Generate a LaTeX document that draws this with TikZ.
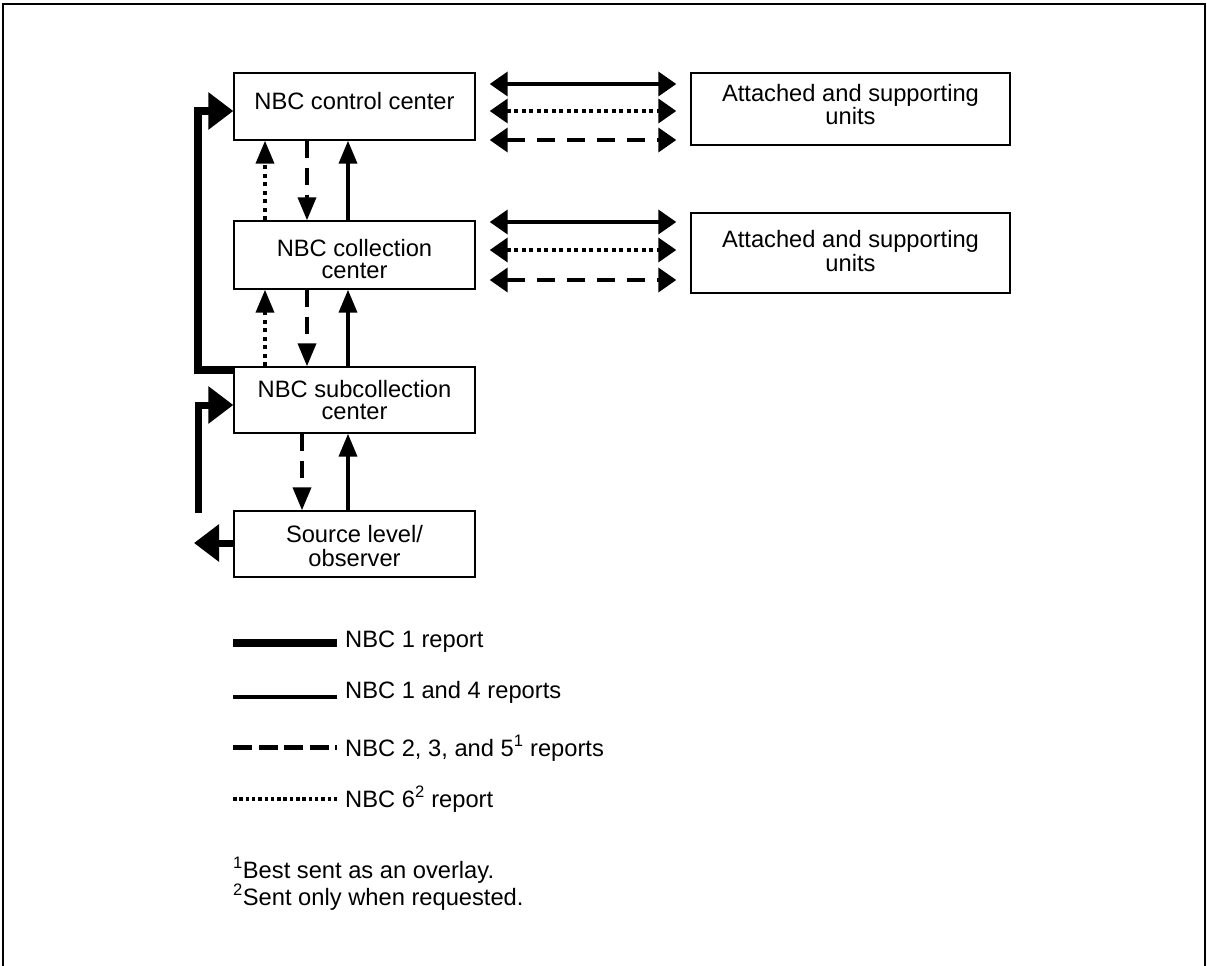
\documentclass[tikz,border=0pt]{standalone}
\usepackage{fontspec}
\setmainfont{Liberation Sans}
\usetikzlibrary{arrows.meta}
\begin{document}
\begin{tikzpicture}[x=1pt,y=-1pt,
  boxst/.style={draw,line width=1.4pt,rectangle,inner sep=0pt,minimum width=241pt},
  unitbox/.style={draw,line width=1.4pt,rectangle,inner sep=0pt,minimum width=319pt},
  txt/.style={inner sep=0pt,font=\fontsize{23.7}{23}\selectfont},
  hsolid/.style={line width=3.8pt,{Triangle[length=18pt,width=24pt]}-{Triangle[length=18pt,width=24pt]},shorten <=14pt,shorten >=14pt},
  hdotted/.style={hsolid,dash pattern=on 4pt off 3.5pt},
  hdashed/.style={hsolid,dash pattern=on 18pt off 12pt},
  vsolid/.style={line width=3.8pt,-{Triangle[length=23pt,width=18pt]}},
  vdotted/.style={vsolid,dash pattern=on 4pt off 4.5pt},
  vdashed/.style={vsolid,dash pattern=on 17pt off 10pt},
  nbcone/.style={line width=8pt,line join=miter},
  bighead/.style={-{Triangle[length=25pt,width=36pt]}}
]
\useasboundingbox (0,0) rectangle (1207,966);
% outer frame (open at bottom)
\draw[line width=2pt] (3,966) -- (3,4) -- (1205,4) -- (1205,966);

% boxes
\node[boxst,minimum height=67pt] (c1) at (354.5,106.5) {};
\node[boxst,minimum height=68pt] (c2) at (354.5,255) {};
\node[boxst,minimum height=66pt] (c3) at (354.5,400) {};
\node[boxst,minimum height=66pt] (c4) at (354.5,544) {};
\node[unitbox,minimum height=72pt] (a1) at (850.5,109) {};
\node[unitbox,minimum height=80pt] (a2) at (850.5,253) {};

% box texts
\node[txt,anchor=base] (c1t) at ([yshift=-37pt]c1.north) {NBC control center};
\node[txt,anchor=base] (c2t) at ([yshift=-36pt]c2.north) {NBC collection};
\node[txt,anchor=base] (c2u) at ([yshift=-58.5pt]c2.north) {center};
\node[txt,anchor=base] (c3t) at ([yshift=-31pt]c3.north) {NBC subcollection};
\node[txt,anchor=base] (c3u) at ([yshift=-53pt]c3.north) {center};
\node[txt,anchor=base] (c4t) at ([yshift=-32pt]c4.north) {Source level/};
\node[txt,anchor=base] (c4u) at ([yshift=-56pt]c4.north) {observer};
\node[txt,anchor=base] (a1t) at ([yshift=-29pt]a1.north) {Attached and supporting};
\node[txt,anchor=base] (a1u) at ([yshift=-52pt]a1.north) {units};
\node[txt,anchor=base] (a2t) at ([yshift=-35pt]a2.north) {Attached and supporting};
\node[txt,anchor=base] (a2u) at ([yshift=-59pt]a2.north) {units};

% horizontal arrows, group 1
\draw[hsolid]  ([yshift=22.5pt]c1.east) -- ([yshift=22.5pt]c1.east -| a1.west);
\draw[hdotted] ([yshift=-4.5pt]c1.east) -- ([yshift=-4.5pt]c1.east -| a1.west);
\draw[hdashed] ([yshift=-33.5pt]c1.east) -- ([yshift=-33.5pt]c1.east -| a1.west);
% horizontal arrows, group 2
\draw[hsolid]  ([yshift=33pt]c2.east) -- ([yshift=33pt]c2.east -| a2.west);
\draw[hdotted] ([yshift=5pt]c2.east) -- ([yshift=5pt]c2.east -| a2.west);
\draw[hdashed] ([yshift=-25pt]c2.east) -- ([yshift=-25pt]c2.east -| a2.west);

% vertical arrows c2 <-> c1
\draw[vdotted] ([xshift=-89.5pt]c2.north) -- ([xshift=-89.5pt]c1.south);
\draw[vdashed] ([xshift=-47.5pt]c1.south) -- ([xshift=-47.5pt]c2.north);
\draw[vsolid]  ([xshift=-6.5pt]c2.north) -- ([xshift=-6.5pt]c1.south);
% vertical arrows c3 <-> c2
\draw[vdotted] ([xshift=-89.5pt]c3.north) -- ([xshift=-89.5pt]c2.south);
\draw[vdashed] ([xshift=-47.5pt]c2.south) -- ([xshift=-47.5pt]c3.north);
\draw[vsolid]  ([xshift=-6.5pt]c3.north) -- ([xshift=-6.5pt]c2.south);
% vertical arrows c4 <-> c3
\draw[vdashed] ([xshift=-52.5pt]c3.south) -- ([xshift=-52.5pt]c4.north);
\draw[vsolid]  ([xshift=-6.5pt]c4.north) -- ([xshift=-6.5pt]c3.south);

% NBC 1 report paths
\draw[nbcone,bighead] ([yshift=-4pt]c3.north west) -- ++(-35,0) |- ([yshift=-4.5pt]c1.west);
\coordinate (s1) at (198,513);
\draw[line width=7pt,line join=miter,bighead] (s1) |- ([yshift=-5pt]c3.west);
\coordinate (s2) at (194,543);
\draw[line width=7pt,bighead] ([yshift=1pt]c4.west) -- (s2);

% legend
\draw[line width=8pt] (233,643) -- (337,643);
\draw[line width=4.5pt] (233,697) -- (337,697);
\draw[line width=5pt,dash pattern=on 19pt off 6.5pt] (233,747) -- (337,747);
\draw[line width=4.5pt,dash pattern=on 3.5pt off 2.8pt] (233,799) -- (337,799);
\node[txt,anchor=base west] (l1) at (345,647) {NBC 1 report};
\node[txt,anchor=base west] (l2) at (345,698) {NBC 1 and 4 reports};
\node[txt,anchor=base west] (l3) at (345,756) {NBC 2, 3, and 5\textsuperscript{1} reports};
\node[txt,anchor=base west] (l4) at (345,807) {NBC 6\textsuperscript{2} report};

% footnotes
\node[txt,anchor=base west] (f1) at (233,878) {\textsuperscript{1}Best sent as an overlay.};
\node[txt,anchor=base west] (f2) at (233,905) {\textsuperscript{2}Sent only when requested.};
\end{tikzpicture}
\end{document}
